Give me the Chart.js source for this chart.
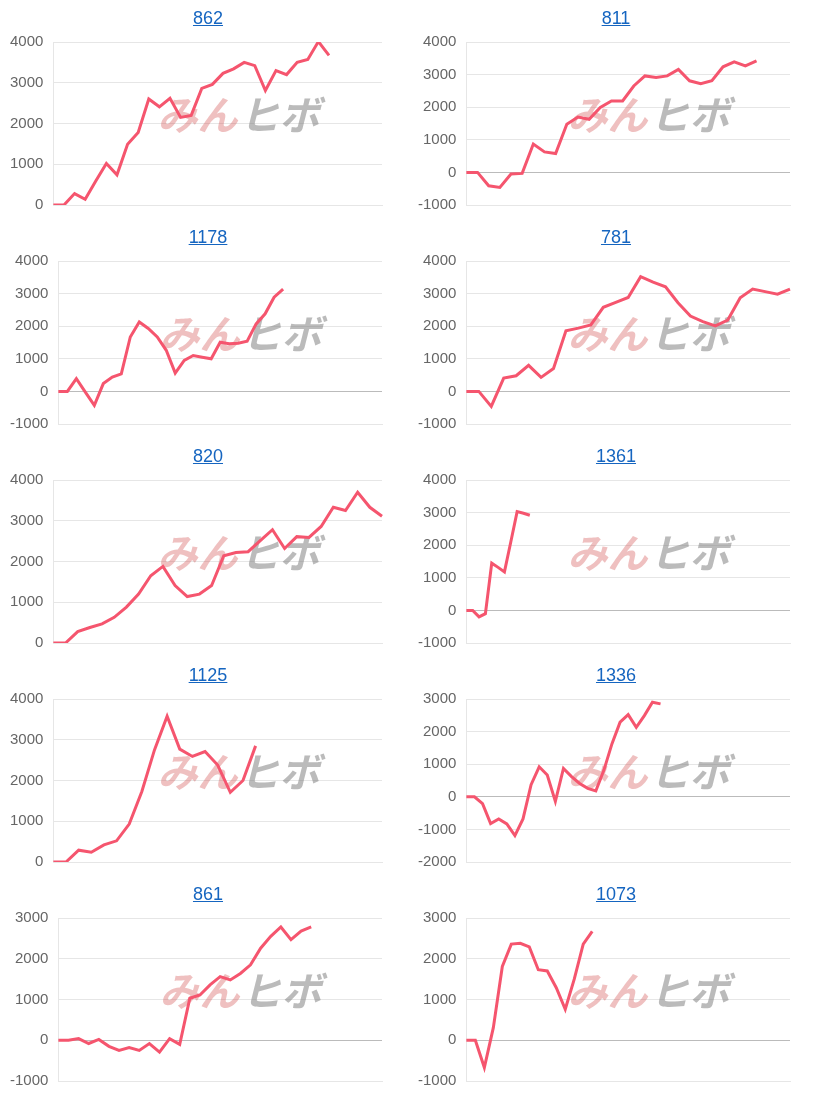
<!DOCTYPE html>
<html>
<head>
<meta charset="utf-8">
<script src="https://cdn.jsdelivr.net/npm/chart.js@4/dist/chart.umd.min.js"></script>
<style>
  body { margin: 0; background: #fff; font-family: Arial, "Liberation Sans", sans-serif; }
  .grid { display: grid; grid-template-columns: 400px 400px; column-gap: 8px; width: 816px; }
  .cell { height: 219px; position: relative; }
  .cell a { position: relative; z-index: 2; display: block; text-align: center; color: #1565c0; font-size: 18px; text-decoration: underline; height: 30px; line-height: 36px; padding-left: 16px; }
  .cell .box { position: absolute; top: 23px; left: 0; width: 392px; height: 201px; }
</style>
</head>
<body>
<div class="grid" id="grid"></div>
<script>
var titles = ["862", "811", "1178", "781", "820", "1361", "1125", "1336", "861", "1073"];
var labelCounts = [32, 30, 37, 27, 28, 52, 27, 41, 33, 37];
var yMin = [0, -1000, -1000, -1000, 0, -1000, 0, -2000, -1000, -1000];
var yMax = [4000, 4000, 4000, 4000, 4000, 4000, 4000, 3000, 3000, 3000];

var s862 = [0,0,280,140,590,1020,740,1490,1780,2600,2410,2620,2150,2200,2860,2960,3230,3340,3500,3420,2810,3300,3200,3500,3570,4010,3670];
var s811 = [0,0,-410,-460,-50,-30,870,630,580,1480,1700,1630,1990,2190,2190,2650,2960,2910,2960,3160,2810,2720,2810,3240,3390,3270,3420];
var s1178 = [0,0,390,-20,-430,240,440,540,1670,2130,1930,1670,1260,560,950,1100,1050,1000,1510,1460,1480,1540,2070,2380,2890,3140];
var s781 = [0,0,-460,410,480,800,430,700,1860,1940,2040,2580,2730,2880,3520,3350,3210,2720,2310,2140,2010,2190,2870,3140,3060,2980,3140];
var s820 = [0,0,280,380,470,630,880,1200,1650,1880,1410,1140,1200,1410,2140,2220,2240,2510,2780,2320,2610,2590,2860,3330,3250,3700,3330,3110];
var s1361 = [0,0,-200,-100,1450,1320,1180,2100,3030,2980,2920];
var s1125 = [0,0,290,240,420,520,930,1730,2750,3580,2770,2590,2710,2380,1710,2000,2850];
var s1336 = [0,0,-210,-820,-680,-830,-1190,-680,370,920,670,-140,870,620,410,260,180,820,1630,2290,2520,2130,2490,2900,2850];
var s861 = [0,0,40,-80,20,-150,-250,-180,-250,-80,-290,40,-100,1030,1110,1360,1560,1480,1640,1850,2260,2550,2780,2470,2680,2780];
var s1073 = [0,0,-670,310,1810,2360,2380,2290,1730,1700,1290,760,1500,2360,2670];
var series = [s862, s811, s1178, s781, s820, s1361, s1125, s1336, s861, s1073];

// faint logo behind the line
var watermark = {
  id: 'watermark',
  beforeDatasetsDraw: function(chart) {
    var ctx = chart.ctx, a = chart.chartArea;
    var cx = a.left + (a.right - a.left) * 0.56, cy = 92;
    ctx.save();
    ctx.font = 'italic bold 40px "Noto Sans CJK JP"';
    ctx.textBaseline = 'middle';
    ctx.textAlign = 'right';
    ctx.fillStyle = 'rgba(214,90,90,0.38)';
    ctx.fillText('みん', cx, cy);
    ctx.textAlign = 'left';
    ctx.fillStyle = 'rgba(120,120,120,0.5)';
    ctx.fillText('ヒボ', cx + 2, cy);
    ctx.restore();
  }
};

var grid = document.getElementById('grid');
titles.forEach(function(t, i) {
  var cell = document.createElement('div');
  cell.className = 'cell';
  cell.innerHTML = '<a href="#">' + t + '</a><div class="box"><canvas></canvas></div>';
  grid.appendChild(cell);
  var labels = [];
  for (var k = 0; k < labelCounts[i]; k++) labels.push(k);
  new Chart(cell.querySelector('canvas'), {
    type: 'line',
    data: {
      labels: labels,
      datasets: [{
        data: series[i],
        borderColor: 'rgb(245,85,110)',
        borderWidth: 3,
        pointRadius: 0,
        tension: 0,
        fill: false
      }]
    },
    options: {
      responsive: true,
      maintainAspectRatio: false,
      animation: false,
      layout: { padding: { top: 2, bottom: 2, right: 10 } },
      plugins: { legend: { display: false }, tooltip: { enabled: false } },
      scales: {
        x: { display: true, ticks: { display: false }, grid: { display: false, drawTicks: false }, border: { color: '#e6e6e6' } },
        y: {
          min: yMin[i], max: yMax[i],
          ticks: { stepSize: 1000, color: '#666', font: { size: 15, family: 'Arial' }, padding: 10,
                   callback: function(v) { return String(v); } },
          grid: { drawTicks: false, color: function(c) { return c.tick && c.tick.value === 0 ? '#bbb' : '#e6e6e6'; } },
          border: { display: true, color: '#e6e6e6' }
        }
      }
    },
    plugins: [watermark]
  });
});
</script>
</body>
</html>
